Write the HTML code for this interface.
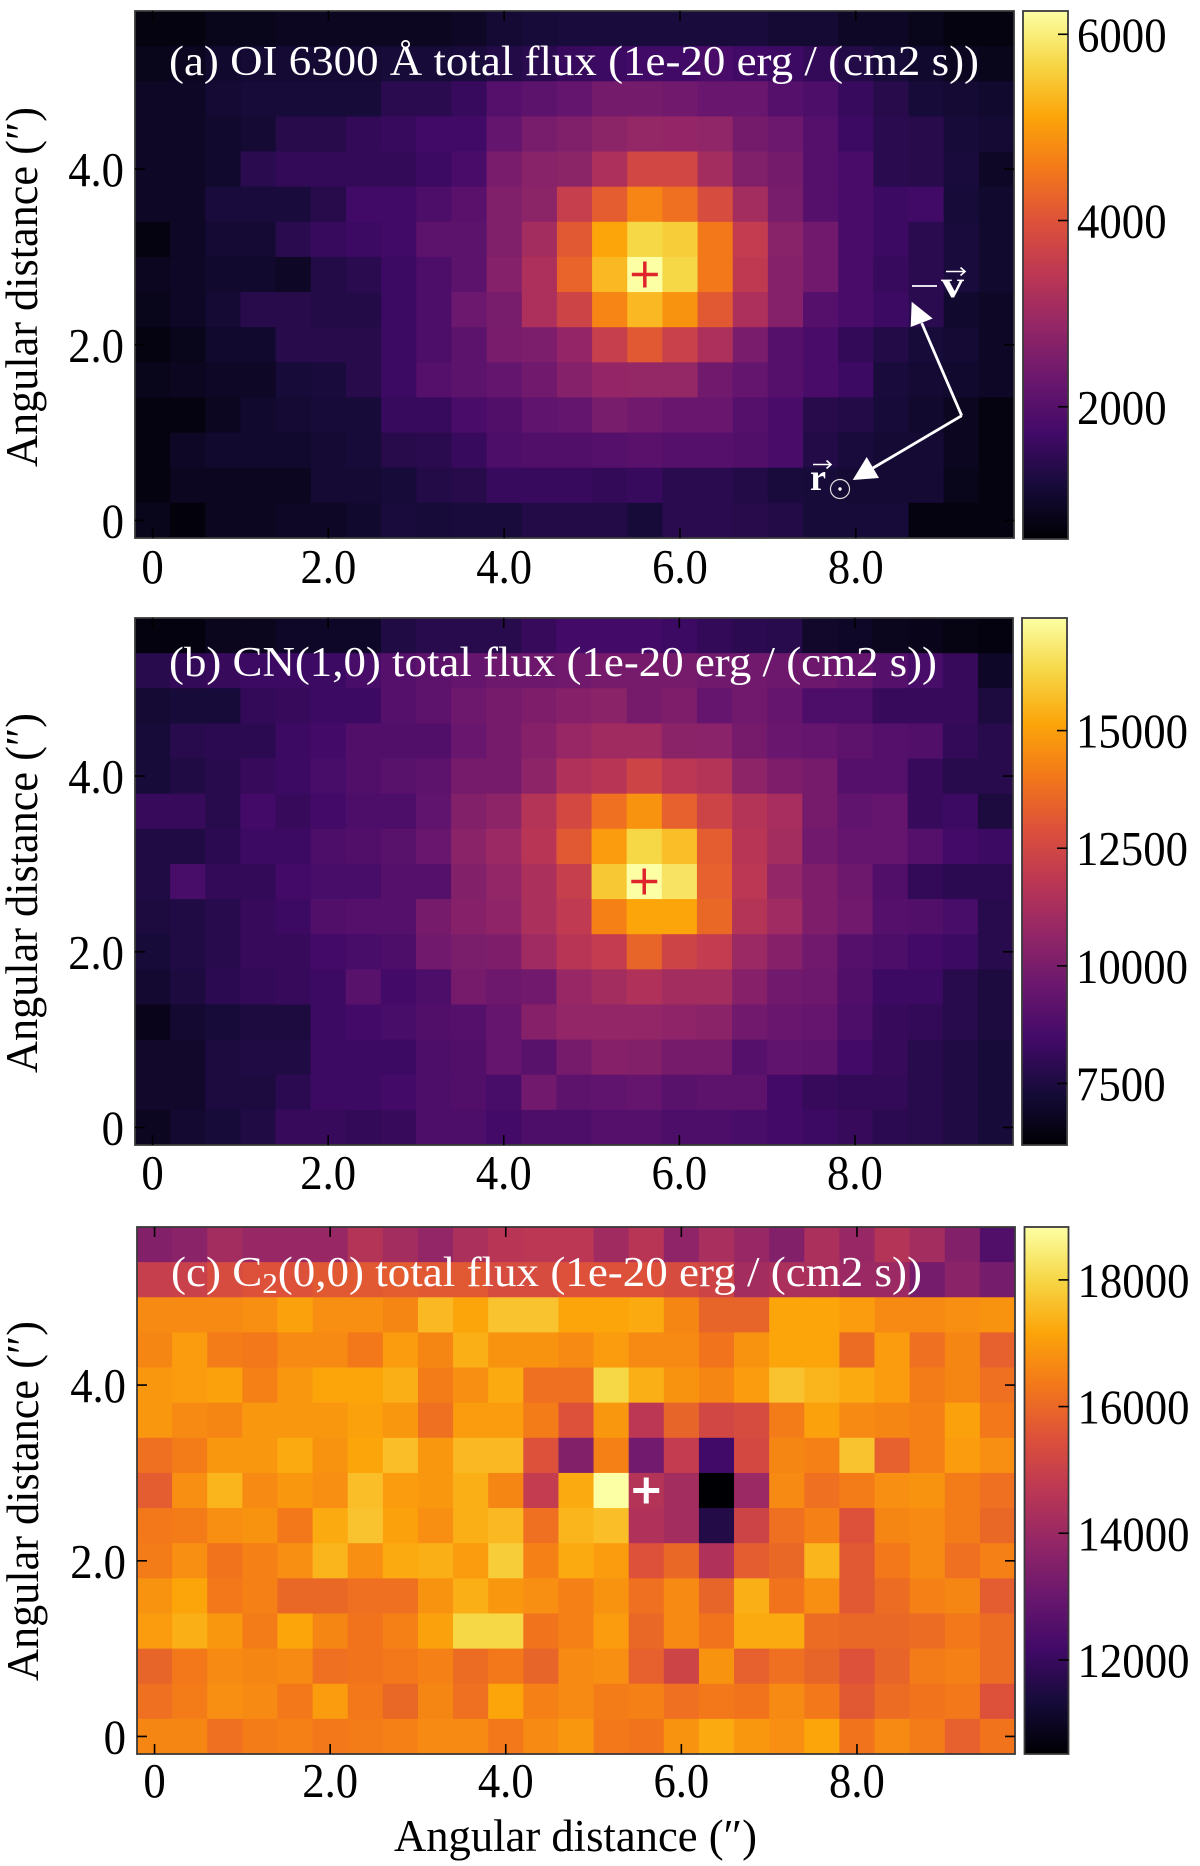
<!DOCTYPE html>
<html>
<head>
<meta charset="utf-8">
<title>Total flux maps</title>
<style>
html,body{margin:0;padding:0;background:#fff;width:1200px;height:1866px;overflow:hidden}
svg{display:block}
text{font-family:"Liberation Serif",serif}
.title{fill:#fff;font-size:42px}
.axis-title{fill:#000;font-size:45px}
</style>
</head>
<body>
<svg xmlns="http://www.w3.org/2000/svg" width="1200" height="1866" viewBox="0 0 1200 1866">
<defs id="defs"></defs>

<g id="panel-a"></g>
<g id="panel-b"></g>
<g id="panel-c"></g>

<g id="annotations">
  <text class="title" x="169" y="75" textLength="810" lengthAdjust="spacingAndGlyphs">(a) OI 6300 Å total flux (1e-20 erg / (cm2 s))</text>
  <text class="title" x="169" y="676" textLength="768" lengthAdjust="spacingAndGlyphs">(b) CN(1,0) total flux (1e-20 erg / (cm2 s))</text>
  <text class="title" x="171" y="1286" textLength="751" lengthAdjust="spacingAndGlyphs">(c) C<tspan font-size="29" dy="7">2</tspan><tspan dy="-7">(0,0) total flux (1e-20 erg / (cm2 s))</tspan></text>

  <text class="axis-title" transform="translate(37,467) rotate(-90)" textLength="360" lengthAdjust="spacingAndGlyphs">Angular distance (″)</text>
  <text class="axis-title" transform="translate(37,1073) rotate(-90)" textLength="360" lengthAdjust="spacingAndGlyphs">Angular distance (″)</text>
  <text class="axis-title" transform="translate(38,1681) rotate(-90)" textLength="360" lengthAdjust="spacingAndGlyphs">Angular distance (″)</text>
  <text class="axis-title" x="394" y="1851" textLength="363" lengthAdjust="spacingAndGlyphs">Angular distance (″)</text>

  <g>
    <line x1="961.7" y1="415.7" x2="921.7" y2="323" stroke="#fff" stroke-width="2.8"/>
    <polygon points="911.7,301.7 932.7,318.5 910.7,327" fill="#fff"/>
  </g>
  <g>
    <line x1="961.7" y1="415.7" x2="873" y2="468" stroke="#fff" stroke-width="2.8"/>
    <polygon points="852.7,480 866.7,457 879,478" fill="#fff"/>
  </g>
  <g>
    <line x1="912" y1="286" x2="937" y2="286" stroke="#fff" stroke-width="1.8"/>
    <text x="941" y="297" font-size="38" font-weight="bold" fill="#fff" textLength="23" lengthAdjust="spacingAndGlyphs">v</text>
    <path d="M946 271.5H965M960.5 267.5L965 271.5L960.5 275.5" fill="none" stroke="#fff" stroke-width="1.6"/>
  </g>
  <g>
    <text x="810" y="490" font-size="38" font-weight="bold" fill="#fff" textLength="16" lengthAdjust="spacingAndGlyphs">r</text>
    <path d="M813 464.5H831M826.5 460.5L831 464.5L826.5 468.5" fill="none" stroke="#fff" stroke-width="1.6"/>
    <circle cx="840" cy="489" r="9.5" fill="none" stroke="#ddd" stroke-width="1.2"/>
    <circle cx="840" cy="489" r="1.7" fill="#fff"/>
  </g>
</g>
</svg>

<script>
/* ---------- shared axis values ---------- */
var xDomain = [-0.2, 9.8];
var yDomain = [-0.2, 5.8];
var pixelScale = [0.4];
var xTickValues = [0, 2, 4, 6, 8];
var xTickLabels = ['0', '2.0', '4.0', '6.0', '8.0'];
var yTickValues = [0, 2, 4];
var yTickLabels = ['0', '2.0', '4.0'];
var nucleusPosition = [5.6, 2.8];

/* ---------- panel (a) OI 6300 total flux, rows listed top to bottom ---------- */
var oiColorRange = [580, 6250];
var oiColorTicks = [2000, 4000, 6000];
var oiFluxRows = [
[723,723,820,820,877,877,877,877,877,934,1087,1144,1200,1200,1200,1200,1200,1200,1087,1087,934,934,820,723,723],
[820,877,1030,1087,1087,1087,1087,1144,1144,1200,1307,1420,1584,1640,1697,1697,1814,1697,1640,1527,1307,1144,1030,877,820],
[934,934,1087,1144,1144,1144,1144,1420,1420,1584,1984,2087,2201,2428,2428,2371,2258,2258,1984,1871,1584,1364,1144,1087,1030],
[934,934,1030,1087,1364,1364,1527,1584,1697,1697,2201,2471,2584,2755,2868,2855,2811,2428,2314,1984,1640,1420,1364,1144,1087],
[934,934,1030,1420,1527,1527,1527,1527,1640,1814,2484,2698,2755,3192,3755,3755,3081,2584,2428,1984,1814,1420,1364,1200,934],
[934,934,1200,1200,1200,1364,1697,1697,1871,2041,2584,2755,3585,4152,4719,4436,3869,3081,2471,1984,1814,1640,1697,1144,1030],
[723,934,1087,1087,1420,1584,1640,1697,2087,2087,2584,3081,4095,5116,5683,5570,4549,3528,2698,2371,1814,1640,1420,1200,1030],
[877,934,1030,1030,934,1307,1420,1640,1871,2087,2641,3192,4265,5343,6250,5683,4549,3475,2641,2371,1814,1584,1420,1200,1030],
[820,934,1087,1364,1364,1307,1307,1640,1871,2314,2471,3192,3699,4719,5343,4889,4095,3195,2641,1984,1814,1640,1420,1030,934],
[723,820,1030,1030,1364,1364,1364,1640,1871,2087,2484,2528,2855,3585,4095,3642,3192,2484,1984,1814,1527,1307,1144,1087,934],
[820,877,934,934,1144,1200,1364,1640,1984,2087,2201,2371,2641,2855,2868,2868,2371,2201,1984,1814,1640,1200,1087,1030,934],
[723,723,877,1030,1087,1144,1144,1584,1584,1814,1927,2144,2201,2471,2371,2258,2258,1984,1814,1364,1307,1144,1030,877,723],
[723,934,1030,1030,1030,1087,1144,1364,1420,1584,1871,1927,1927,1984,2041,1984,1984,1927,1814,1307,1200,1087,1087,877,723],
[723,877,877,877,877,1087,1087,1144,1307,1364,1584,1584,1584,1527,1584,1420,1420,1307,1200,1144,1087,1087,1087,820,723],
[820,667,877,877,934,934,1030,1200,1144,1200,1200,1307,1307,1307,1144,1420,1420,1364,1307,1144,1144,1144,723,723,723]
];

/* ---------- panel (b) CN(1,0) total flux ---------- */
var cnColorRange = [6193, 17393];
var cnColorTicks = [7500, 10000, 12500, 15000];
var cnFluxRows = [
[6405,6405,6741,6741,6923,6923,6923,7603,7765,7765,7765,8151,8475,8475,8475,8313,8039,7877,7765,7035,6923,6741,6629,6517,6405],
[7765,8039,8151,8313,8313,8313,8587,8973,9197,9421,9645,9645,9757,9869,9869,9869,9757,9757,9645,9645,9421,8973,8587,8151,6923],
[7207,7319,7319,8039,8151,8313,8313,8973,9197,9645,9869,10093,10329,10441,9869,10105,9421,9757,9421,8749,8749,8151,8151,8151,7491],
[7319,7765,7877,7877,8313,8475,8861,8861,8861,9533,9869,10329,10769,11005,11005,10441,10433,9869,9533,9421,9197,8973,8861,8039,7765],
[7319,7603,7765,8151,8313,8587,8861,9085,9197,9869,9869,10545,11465,11689,12353,11801,11577,10545,10105,9869,8973,8973,8151,7765,7765],
[8151,8151,7765,8475,8151,8475,8749,8749,9309,10217,10545,11577,12577,13809,14705,13361,12353,11577,11229,9869,9309,9421,8151,8313,7491],
[7603,7603,7877,8313,8313,8749,8861,9085,9533,10441,10881,11689,13137,14929,16273,15713,13249,11689,11117,9757,9421,9421,8973,8475,8313],
[7603,8587,8039,8039,8475,8587,8587,8973,8973,10217,10657,11341,12129,15937,17393,16609,13361,11801,10657,10093,9645,8861,8039,7877,7877],
[7491,7603,7765,8151,8313,8861,8973,8973,9869,10329,10553,11341,11913,14257,15153,15153,13585,11565,10993,10093,9757,8973,8861,8587,7765],
[7319,7603,7765,8151,8151,8475,8587,8749,9757,9981,10093,10993,11689,12017,13473,12353,12017,10881,10329,9757,8973,8749,8475,8313,7765],
[7147,7491,7877,8039,8151,8313,9085,8475,8749,9869,9645,9757,10769,11117,11453,11117,11117,10329,9757,9645,8861,8313,8313,7765,7491],
[6629,7147,7319,7491,7491,8313,8475,8587,8861,8973,9421,10329,10657,10657,10657,10553,10441,9757,9533,9421,8749,8151,8039,7765,7491],
[7035,7035,7491,7603,7603,8313,8313,8313,8749,8861,9421,9085,9869,10329,10217,9869,9869,8973,9309,9197,8475,8151,7765,7603,7319],
[7035,7035,7491,7491,7877,8313,8313,8475,8749,8861,8587,9757,9197,9309,9421,9085,9197,9197,8475,8151,8039,8039,7765,7603,7319],
[6811,7147,7319,7603,8151,8151,8039,8151,8749,8749,8475,8749,8749,8973,8973,8749,8749,8587,8475,8313,8151,7877,7765,7603,7319]
];

/* ---------- panel (c) C2(0,0) total flux ---------- */
var c2ColorRange = [10515, 18835];
var c2ColorTicks = [12000, 14000, 16000, 18000];
var c2FluxRows = [
[13510,13677,14176,13926,13926,13926,14509,14176,13843,14342,14592,14675,14675,14093,14592,13760,14259,13926,13510,14342,13926,14509,14176,13510,12512],
[14924,15008,15341,15507,15507,15673,15673,15757,15673,15673,15341,15341,15507,15507,15507,15341,15091,14176,14342,14342,14009,14009,13261,13677,13261],
[16672,16672,16672,16755,17088,16755,16755,16589,17504,17171,17670,17670,17171,17171,17254,16589,15923,15923,17171,17171,17005,16672,16672,16755,16838],
[16589,17005,16422,16339,16672,16672,16339,17005,16589,17337,16838,16838,16672,17005,16672,16672,16256,16838,17171,17171,16089,17005,16173,16589,15840],
[16921,17005,17088,16505,16921,17171,17171,17337,16422,16755,17254,16173,16173,18003,17337,16838,16589,17005,17670,17421,17254,17005,16422,16589,16173],
[16921,16672,16589,16921,16921,16921,17088,16921,16173,17005,17005,16422,15507,16921,14675,15923,15174,15341,16422,17088,16672,16589,16505,17088,16339],
[16173,16422,16921,16921,17254,16838,17171,17587,16921,17504,17504,15507,13510,16505,13177,14841,12179,15257,16589,16505,17670,15840,16505,17005,16755],
[15757,16755,17421,16672,16921,16755,17587,17005,16921,17337,16589,14841,17254,18835,14509,14176,10515,14009,16672,16173,16422,16755,16838,16422,16173],
[16339,16422,16755,16838,16339,17254,17670,17088,16755,17337,17504,16173,17421,17587,14426,14176,11597,15091,16173,16505,15507,16589,16672,16422,16006],
[16422,16755,16256,16505,16755,17421,16755,17254,17337,17005,17837,16505,17254,17005,15507,16006,14426,15757,16006,17421,15673,16339,16672,16173,16505],
[16838,17171,16339,16505,16006,16006,16173,16173,16838,17337,16921,16755,16505,16838,16173,16672,15923,17337,16256,16755,15673,16089,16505,16589,15757],
[17005,17337,16921,16422,17171,16589,16256,16505,17088,18003,18003,16256,16505,17005,16006,16672,16256,17254,17254,16089,16006,16006,16089,16339,16089],
[15923,16339,16672,16589,16672,16173,16256,16339,16505,16089,16339,15923,16672,16755,15840,15091,16838,15840,16173,15923,15507,15923,16422,16505,16089],
[16173,16422,16755,16672,16339,17005,16339,16006,16589,16173,17171,16505,16672,16422,16505,16173,16339,16256,16672,16339,15673,16089,16256,16339,15507],
[16589,16589,16173,16422,16505,16339,16422,16505,16672,16672,16339,16672,16921,16339,16256,16838,17254,16921,16755,17171,16256,16672,16422,15840,16256]
];

/* ---------- inferno colour map ---------- */
var infernoStops = ['#000004','#160b39','#420a68','#6a176e','#932667','#bc3754','#dd513a','#f37819','#fca50a','#f6d746','#fcffa4'];

function hexToRgb(h){return [parseInt(h.substr(1,2),16),parseInt(h.substr(3,2),16),parseInt(h.substr(5,2),16)];}
function inferno(t){
  t=Math.max(0,Math.min(1,t));
  var p=t*(infernoStops.length-1),i=Math.min(Math.floor(p),infernoStops.length-2),f=p-i;
  var a=hexToRgb(infernoStops[i]),b=hexToRgb(infernoStops[i+1]);
  return 'rgb('+Math.round(a[0]+(b[0]-a[0])*f)+','+Math.round(a[1]+(b[1]-a[1])*f)+','+Math.round(a[2]+(b[2]-a[2])*f)+')';
}

var NS='http://www.w3.org/2000/svg';
function make(parent,tag,attrs,txt){
  var el=document.createElementNS(NS,tag);
  for(var k in attrs){el.setAttribute(k,attrs[k]);}
  if(txt!==undefined){el.textContent=txt;}
  parent.appendChild(el);
  return el;
}
function labelWidth(s){
  var w=0;
  for(var i=0;i<s.length;i++){w+=(s[i]==='.')?11:22.4;}
  return w;
}

var defs=document.getElementById('defs');
var grad=make(defs,'linearGradient',{id:'inferno-gradient',x1:0,y1:1,x2:0,y2:0});
infernoStops.forEach(function(c,i){
  make(grad,'stop',{offset:i/(infernoStops.length-1),'stop-color':c});
});

function drawPanel(id,rows,range,cticks,box,cbar,xLabelBase,markerColor,markerWidth){
  var root=document.getElementById(id);
  var W=box[2]-box[0],H=box[3]-box[1];
  function xScale(v){return box[0]+(v-xDomain[0])/(xDomain[1]-xDomain[0])*W;}
  function yScale(v){return box[3]-(v-yDomain[0])/(yDomain[1]-yDomain[0])*H;}
  function cScale(v){return cbar[3]-(v-range[0])/(range[1]-range[0])*(cbar[3]-cbar[1]);}
  var step=pixelScale[0];

  var cells=make(root,'g',{});
  
  
  rows.forEach(function(row,r){
    var yCenter=step*(rows.length-1-r);
    row.forEach(function(val,c){
      var xCenter=step*c;
      var x0=xScale(xCenter-step/2),x1=xScale(xCenter+step/2);
      var y0=yScale(yCenter+step/2),y1=yScale(yCenter-step/2);
      var rect=make(cells,'rect',{x:x0,y:y0,width:x1-x0+0.4,height:y1-y0+0.4,fill:inferno((val-range[0])/(range[1]-range[0]))});
      
      
    });
  });

  var frame=make(root,'rect',{x:box[0],y:box[1],width:W,height:H,fill:'none',stroke:'#3a3a3a','stroke-width':1.8});
  
  

  xTickValues.forEach(function(v,i){
    var x=xScale(v);
    var t=make(root,'path',{d:'M'+x+' '+box[3]+'v-10M'+x+' '+box[1]+'v10',stroke:'#000','stroke-width':1.6,fill:'none'});
    
    
    var s=xTickLabels[i];
    var l=make(root,'text',{x:x,y:xLabelBase,'font-size':49,'text-anchor':'middle',fill:'#000',textLength:labelWidth(s),lengthAdjust:'spacingAndGlyphs'},s);
    
    
  });
  yTickValues.forEach(function(v,i){
    var y=yScale(v);
    var t=make(root,'path',{d:'M'+box[0]+' '+y+'h10M'+box[2]+' '+y+'h-10',stroke:'#000','stroke-width':1.6,fill:'none'});
    
    
    var s=yTickLabels[i];
    var l=make(root,'text',{x:box[0]-11,y:y+17,'font-size':49,'text-anchor':'end',fill:'#000',textLength:labelWidth(s),lengthAdjust:'spacingAndGlyphs'},s);
    
    
  });

  var bar=make(root,'rect',{x:cbar[0],y:cbar[1],width:cbar[2]-cbar[0],height:cbar[3]-cbar[1],fill:'url(#inferno-gradient)',stroke:'#3a3a3a','stroke-width':1.8});
  
  
  cticks.forEach(function(v){
    var y=cScale(v);
    var t=make(root,'line',{x1:cbar[2],x2:cbar[2]-10,y1:y,y2:y,stroke:'#000','stroke-width':1.6});
    
    
    var s=String(v);
    var l=make(root,'text',{x:cbar[2]+9,y:y+17,'font-size':49,fill:'#000',textLength:labelWidth(s),lengthAdjust:'spacingAndGlyphs'},s);
    
    
  });

  var mx=xScale(nucleusPosition[0]),my=yScale(nucleusPosition[1]);
  var m=make(root,'path',{d:'M'+(mx-13)+' '+my+'h26M'+mx+' '+(my-13)+'v26',stroke:markerColor,'stroke-width':markerWidth,fill:'none'});
  
  
}

drawPanel('panel-a',oiFluxRows,oiColorRange,oiColorTicks,[135,11,1014,538],[1023,11,1068,539],583,'#e0242c',3.5);
drawPanel('panel-b',cnFluxRows,cnColorRange,cnColorTicks,[135,618,1013,1145],[1022,618,1067,1145],1189,'#e0242c',3.5);
drawPanel('panel-c',c2FluxRows,c2ColorRange,c2ColorTicks,[137,1227,1015,1754],[1024.5,1227,1068.5,1754],1797,'#ffffff',5);
</script>
</body>
</html>
